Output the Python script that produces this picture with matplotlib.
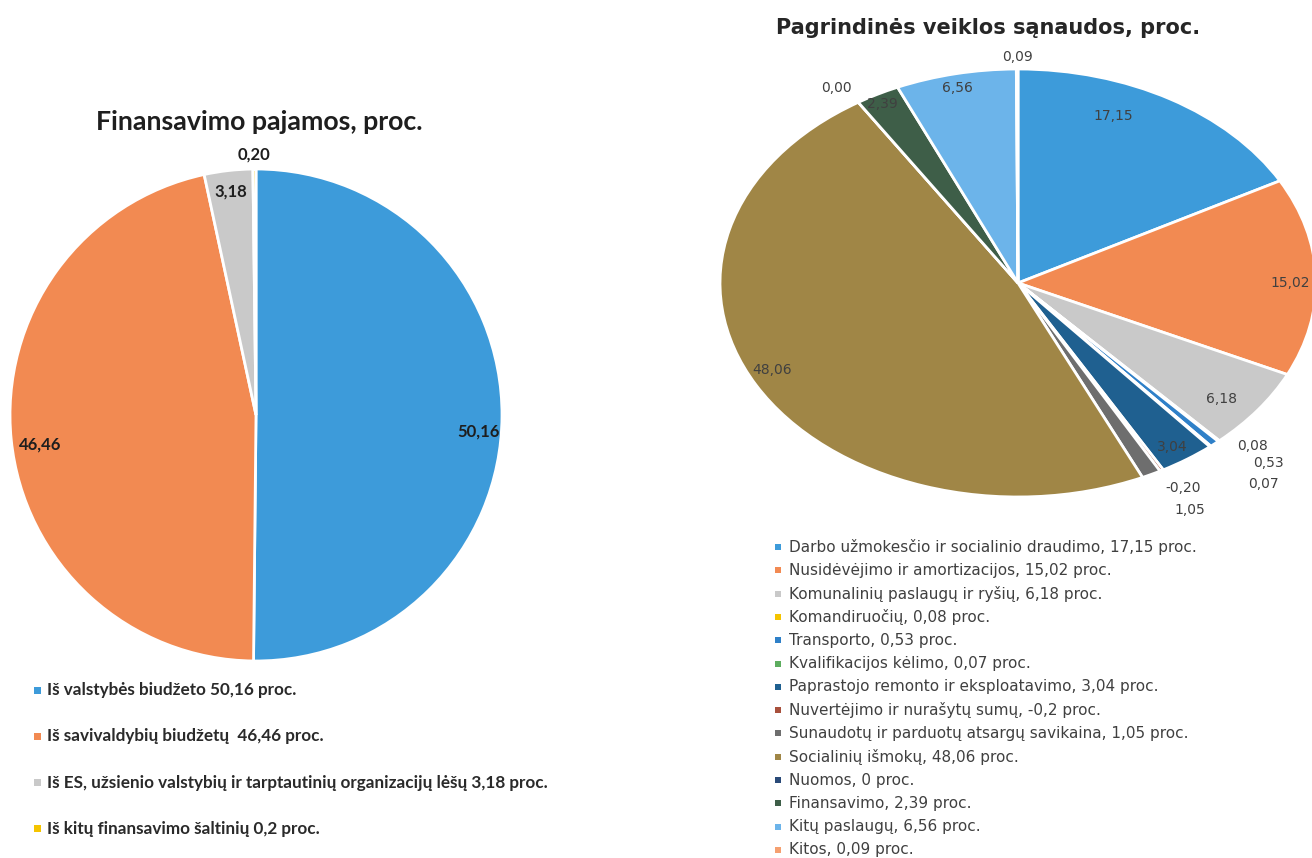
import matplotlib
matplotlib.use("Agg")
import matplotlib.pyplot as plt
import numpy as np
from matplotlib.patches import Rectangle

# ---------------- data ----------------
left_title = "Finansavimo pajamos, proc."
left_values = [50.16, 46.46, 3.18, 0.20]
left_labels = ["50,16", "46,46", "3,18", "0,20"]
left_legend = [
    "Iš valstybės biudžeto 50,16 proc.",
    "Iš savivaldybių biudžetų  46,46 proc.",
    "Iš ES, užsienio valstybių ir tarptautinių organizacijų lėšų 3,18 proc.",
    "Iš kitų finansavimo šaltinių 0,2 proc.",
]

right_title = "Pagrindinės veiklos sąnaudos, proc."
right_values = [17.15, 15.02, 6.18, 0.08, 0.53, 0.07, 3.04, -0.20, 1.05, 48.06, 0.00, 2.39, 6.56, 0.09]
right_labels = ["17,15", "15,02", "6,18", "0,08", "0,53", "0,07", "3,04", "-0,20", "1,05",
                "48,06", "0,00", "2,39", "6,56", "0,09"]
right_legend = [
    "Darbo užmokesčio ir socialinio draudimo, 17,15 proc.",
    "Nusidėvėjimo ir amortizacijos, 15,02 proc.",
    "Komunalinių paslaugų ir ryšių, 6,18 proc.",
    "Komandiruočių, 0,08 proc.",
    "Transporto, 0,53 proc.",
    "Kvalifikacijos kėlimo, 0,07 proc.",
    "Paprastojo remonto ir eksploatavimo, 3,04 proc.",
    "Nuvertėjimo ir nurašytų sumų, -0,2 proc.",
    "Sunaudotų ir parduotų atsargų savikaina, 1,05 proc.",
    "Socialinių išmokų, 48,06 proc.",
    "Nuomos, 0 proc.",
    "Finansavimo, 2,39 proc.",
    "Kitų paslaugų, 6,56 proc.",
    "Kitos, 0,09 proc.",
]

# ---------------- style ----------------
left_colors = ["#3D9BDA", "#F28A52", "#C9C9C9", "#F5C400"]
right_colors = ["#3D9BDA", "#F28A52", "#C9C9C9", "#F5C400", "#2F80C8", "#5DAD5F",
                "#1F6090", "#A8503C", "#6E6E6E", "#A08646", "#2A4A78", "#3E5E48",
                "#6CB4EA", "#F5A070"]
left_lab_r = [0.905, 0.886, 0.913, 1.057]
left_lab_nudge = [-4.0, 2.0, 0.0, 0.0]
right_lab_r = [0.843, 0.913, 0.873, 1.094, 1.19, 1.25, 0.924, 1.107, 1.207, 0.92, 1.095, 0.953, 0.933, 1.056]
right_lab_nudge = [8.5, -1.6, -2.0, 3.6, 3.7, 1.0, -0.6, 1.2, 2.0, -2.4, 1.3, 0.5, 0.4, 0.0]

W, H = 1312, 858
fig = plt.figure(figsize=(W / 100, H / 100), dpi=100)
fig.patch.set_facecolor("white")


def px_axes(cx, cy, rx, ry):
    return fig.add_axes([(cx - rx) / W, 1 - (cy + ry) / H, 2 * rx / W, 2 * ry / H])


def place_labels(ax, wedges, labels, rs, nudges, **kw):
    for w, lab, r, nd in zip(wedges, labels, rs, nudges):
        mid = np.deg2rad((w.theta1 + w.theta2) / 2 + nd)
        ax.text(r * np.cos(mid), r * np.sin(mid), lab, ha="center", va="center", **kw)


# ---------------- left pie ----------------
axl = px_axes(256, 415, 246, 246)
wl, _ = axl.pie(np.abs(left_values), colors=left_colors, startangle=90, counterclock=False,
                radius=1, wedgeprops=dict(edgecolor="white", linewidth=2))
axl.set_aspect("auto")
axl.set_xlim(-1, 1)
axl.set_ylim(-1, 1)
axl.axis("off")
place_labels(axl, wl, left_labels, left_lab_r, left_lab_nudge,
             fontsize=12, fontweight="bold", color="#1E1E1E", family="Lato")
fig.text(259 / W, 1 - 122 / H, left_title, ha="center", va="center",
         fontsize=19.3, fontweight="bold", color="#1E1E1E", family="Lato")

ly0, ldy = 690, 46.3
for i, (txt, c) in enumerate(zip(left_legend, left_colors)):
    y = ly0 + i * ldy
    fig.add_artist(Rectangle((34 / W, 1 - (y + 3.5) / H), 7 / W, 7 / H,
                             transform=fig.transFigure, color=c, lw=0))
    fig.text(47 / W, 1 - y / H, txt, ha="left", va="center", fontsize=12.3,
             fontweight="bold", color="#2A2A2A", family="Lato")

# ---------------- right pie ----------------
axr = px_axes(1018, 283, 298, 214)
wr, _ = axr.pie(np.abs(right_values), colors=right_colors, startangle=90, counterclock=False,
                radius=1, wedgeprops=dict(edgecolor="white", linewidth=2))
axr.set_aspect("auto")
axr.set_xlim(-1, 1)
axr.set_ylim(-1, 1)
axr.axis("off")
place_labels(axr, wr, right_labels, right_lab_r, right_lab_nudge,
             fontsize=10, color="#404040", family="DejaVu Sans")
fig.text(988 / W, 1 - 28 / H, right_title, ha="center", va="center",
         fontsize=15, fontweight="bold", color="#262626", family="DejaVu Sans")

ry0, rdy = 547, 23.3
for i, (txt, c) in enumerate(zip(right_legend, right_colors)):
    y = ry0 + i * rdy
    fig.add_artist(Rectangle((775 / W, 1 - (y + 3) / H), 6 / W, 6 / H,
                             transform=fig.transFigure, color=c, lw=0))
    fig.text(789 / W, 1 - y / H, txt, ha="left", va="center", fontsize=11,
             color="#404040", family="DejaVu Sans")

fig.savefig("out.png", dpi=100, facecolor="white")
